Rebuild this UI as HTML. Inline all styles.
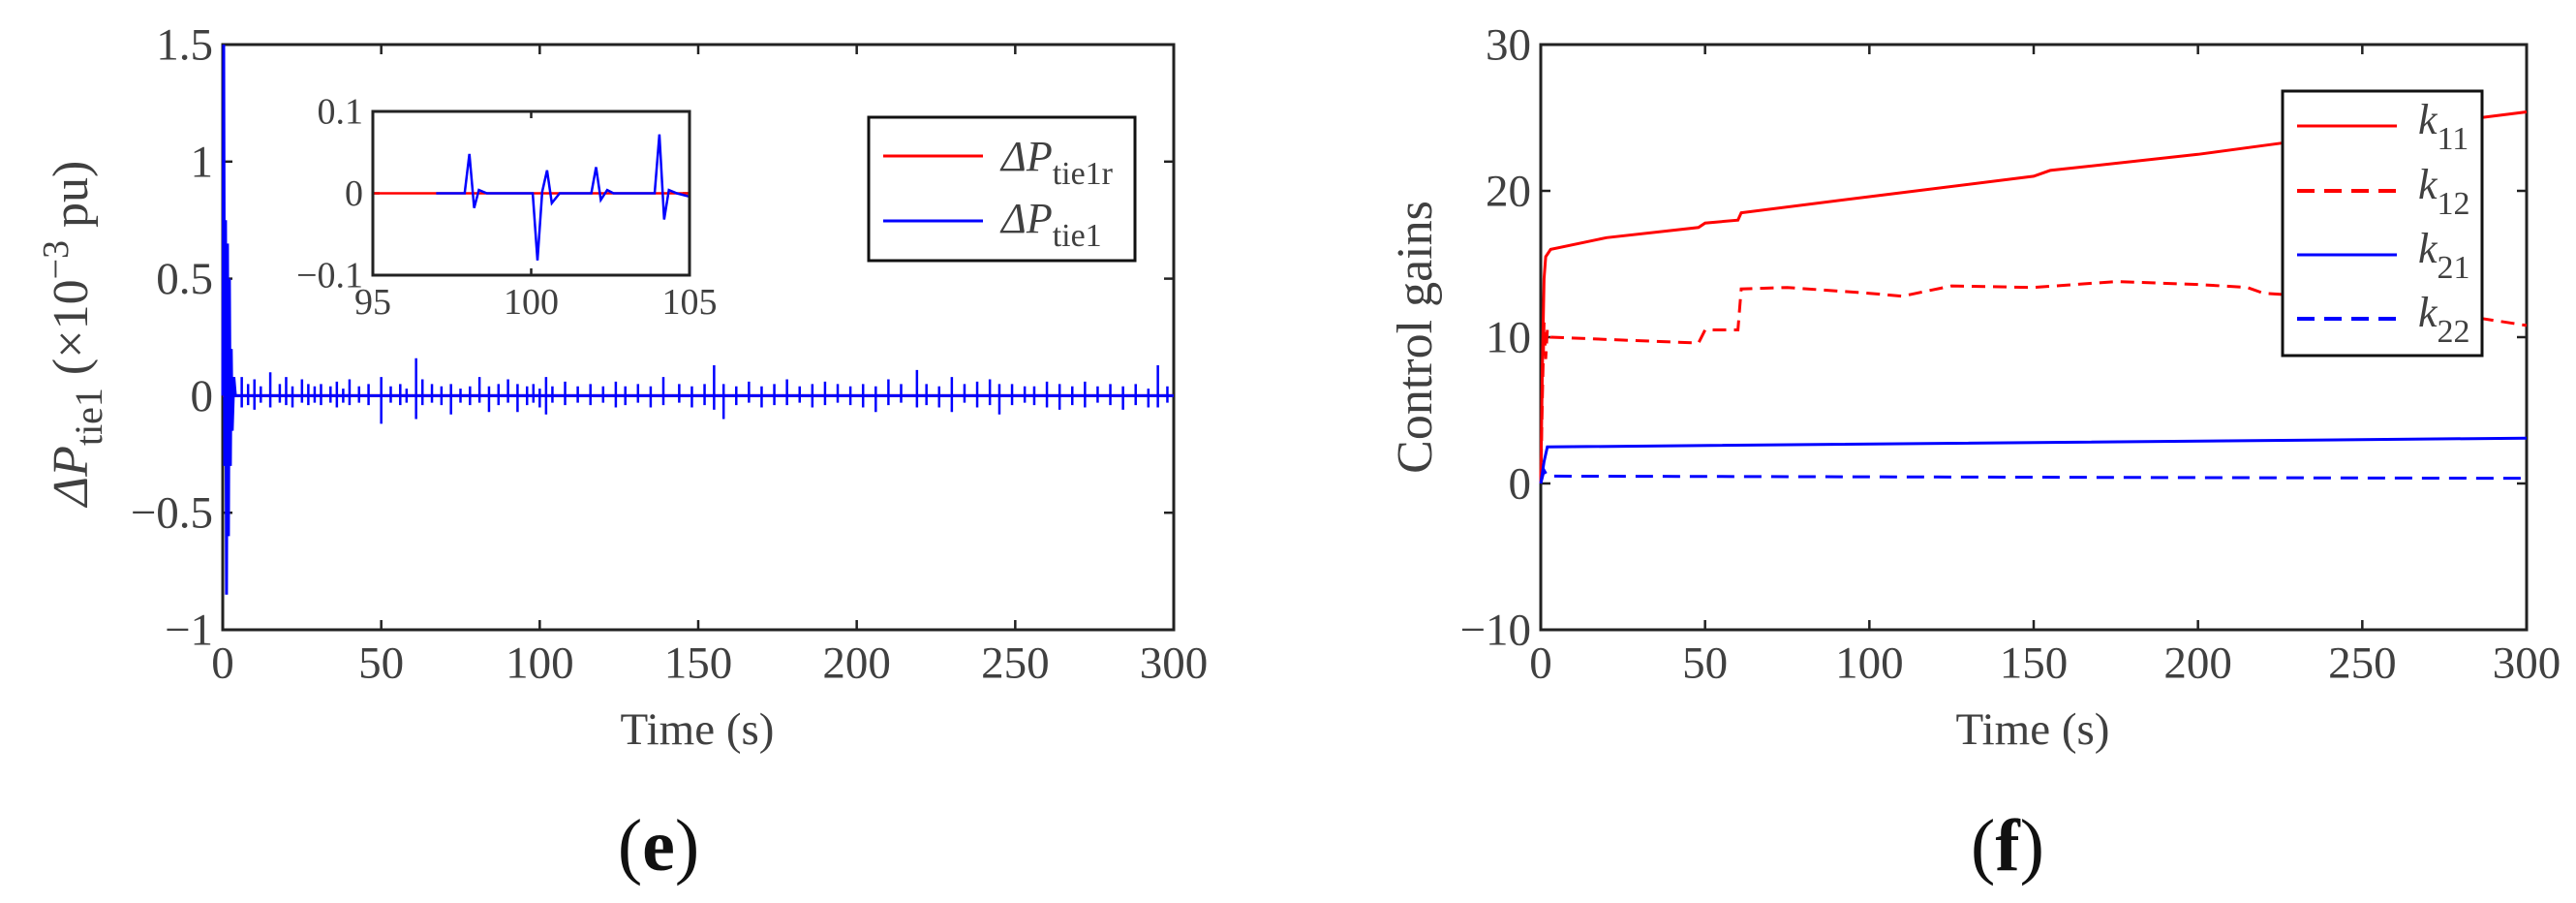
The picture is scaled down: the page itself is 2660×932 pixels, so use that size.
<!DOCTYPE html>
<html><head><meta charset="utf-8"><style>
html,body{margin:0;padding:0;background:#fff}
svg{display:block}
text{font-family:"Liberation Serif",serif;fill:#404040}
</style></head><body>
<svg id="svg" width="2660" height="932" viewBox="0 0 2660 932"></svg>
<script>
// ---------- data (e) ----------
const eTransT=[0,0.3,0.6,0.9,1.2,1.5,1.8,2.1,2.4,2.7,3,3.5,4,300];
const eTransV=[0,1.5,-0.3,0.75,-0.85,0.65,-0.6,0.5,-0.3,0.2,-0.15,0.08,0,0];
const eSpikeT=[6,8,10,12,15,18,20,22,25,27,29,31,34,36,38,40,43,46,50,53,56,58,61,63,66,69,72,75,78,81,84,87,90,93,96,98,100,102,104,108,112,116,120,124,127,131,135,139,144,148,152,155,158,162,166,170,174,178,182,186,190,194,198,202,206,210,214,219,222,226,230,234,238,242,245,249,253,256,260,264,268,272,276,280,284,288,292,295,298];
const eSpikeUp=[0.08,0.05,0.07,0.04,0.1,0.05,0.08,0.04,0.07,0.05,0.04,0.05,0.04,0.06,0.03,0.07,0.04,0.05,0.08,0.04,0.05,0.03,0.16,0.07,0.05,0.04,0.05,0.03,0.04,0.08,0.04,0.05,0.07,0.05,0.04,0.05,0.03,0.08,0.04,0.06,0.04,0.05,0.04,0.06,0.04,0.05,0.04,0.08,0.05,0.04,0.05,0.13,0.05,0.04,0.06,0.04,0.05,0.07,0.04,0.05,0.06,0.05,0.04,0.05,0.04,0.07,0.05,0.11,0.05,0.04,0.08,0.05,0.06,0.07,0.05,0.05,0.04,0.04,0.06,0.05,0.04,0.06,0.04,0.05,0.04,0.05,0.03,0.13,0.04];
const eSpikeDn=[-0.05,-0.04,-0.06,-0.03,-0.05,-0.03,-0.04,-0.05,-0.03,-0.04,-0.03,-0.04,-0.03,-0.05,-0.03,-0.04,-0.03,-0.04,-0.12,-0.03,-0.04,-0.03,-0.1,-0.04,-0.03,-0.04,-0.08,-0.03,-0.04,-0.03,-0.07,-0.04,-0.03,-0.07,-0.04,-0.03,-0.05,-0.08,-0.03,-0.04,-0.03,-0.04,-0.03,-0.05,-0.04,-0.03,-0.05,-0.04,-0.03,-0.05,-0.04,-0.06,-0.1,-0.04,-0.03,-0.05,-0.04,-0.04,-0.03,-0.05,-0.04,-0.03,-0.04,-0.05,-0.07,-0.04,-0.03,-0.05,-0.04,-0.05,-0.07,-0.03,-0.05,-0.04,-0.08,-0.04,-0.03,-0.04,-0.05,-0.06,-0.04,-0.05,-0.03,-0.04,-0.06,-0.04,-0.05,-0.05,-0.03];
const insT=[97,97.9,98.05,98.2,98.35,98.6,100.05,100.2,100.35,100.5,100.65,100.9,101.9,102.05,102.2,102.4,102.6,103,103.9,104.05,104.2,104.35,104.6,105];
const insV=[0,0,0.048,-0.018,0.004,0,0,-0.082,0.002,0.028,-0.012,0,0,0.032,-0.008,0.004,0,0,0,0.072,-0.032,0.004,0,-0.004];
// ---------- data (f) ----------
const k11T=[0,0.5,1,1.5,3,20,48,50,60,61,100,150,155,200,220,250,300];
const k11V=[0,8,14,15.5,16,16.8,17.5,17.8,18,18.5,19.6,21,21.4,22.5,23.1,24,25.4];
const k12T=[0,0.5,1,1.5,2,3,25,48,50,60,61,75,100,110,125,150,175,200,215,220,250,280,300];
const k12V=[0,6,11,8.5,10.5,10,9.8,9.6,10.5,10.5,13.3,13.4,13,12.8,13.5,13.4,13.8,13.6,13.4,13,12.6,11.5,10.8];
const k21T=[0,1,2,300];
const k21V=[0,1.5,2.5,3.1];
const k22T=[0,1,2,300];
const k22V=[0,0.9,0.5,0.35];
const eXTicks=[0,50,100,150,200,250,300];
const eYTicks=[-1,-0.5,0,0.5,1,1.5];
const eYLabels=["\u22121","\u22120.5","0","0.5","1","1.5"];
const fYTicks=[-10,0,10,20,30];
const fYLabels=["\u221210","0","10","20","30"];
const insX=[95,100,105];
const insY=[-0.1,0,0.1];
const insYLabels=["\u22120.1","0","0.1"];

const svg=document.getElementById('svg');
const NS='http://www.w3.org/2000/svg';
function mk(tag,attrs,parent){const e=document.createElementNS(NS,tag);for(const k in attrs)e.setAttribute(k,attrs[k]);(parent||svg).appendChild(e);return e;}
function scale(d0,d1,r0,r1){return v=>r0+(v-d0)/(d1-d0)*(r1-r0);}
function path(xs,ys,X,Y){return xs.map((t,i)=>(i?'L':'M')+X(t).toFixed(1)+','+Y(ys[i]).toFixed(1)).join('');}

function axesBox(L,R,T,B,X,Y,xt,yt,ylab,fs,tick,name){
  const g=mk('g',{});
  
  
  xt.forEach(v=>{
    mk('line',{x1:X(v),x2:X(v),y1:B,y2:B-tick,stroke:'#222','stroke-width':2.5},g);
    mk('line',{x1:X(v),x2:X(v),y1:T,y2:T+tick,stroke:'#222','stroke-width':2.5},g);
    const t=mk('text',{x:X(v),y:B+fs*1.05,'font-size':fs,'text-anchor':'middle'},g);t.textContent=v;
    
    
  });
  yt.forEach((v,i)=>{
    mk('line',{x1:L,x2:L+tick,y1:Y(v),y2:Y(v),stroke:'#222','stroke-width':2.5},g);
    mk('line',{x1:R,x2:R-tick,y1:Y(v),y2:Y(v),stroke:'#222','stroke-width':2.5},g);
    const t=mk('text',{x:L-10,y:Y(v)+fs*0.33,'font-size':fs,'text-anchor':'end'},g);t.textContent=ylab[i];
    
    
  });
  return g;
}
function frame(L,R,T,B,name,w){const r=mk('rect',{x:L,y:T,width:R-L,height:B-T,fill:'none',stroke:'#222','stroke-width':w||3});
  
  }

// ===== panel e =====
const eL=230,eR=1212,eT=46,eB=650;
const eX=scale(0,300,eL,eR), eY=scale(-1,1.5,eB,eT);
frame(eL,eR,eT,eB,'plot-e-frame');
axesBox(eL,eR,eT,eB,eX,eY,eXTicks,eYTicks,eYLabels,47,10,'plot-e');
mk('line',{x1:eL,x2:eR,y1:eY(0),y2:eY(0),stroke:'#f00','stroke-width':3});
let d='';
eSpikeT.forEach((t,i)=>{d+='M'+eX(t)+','+eY(eSpikeDn[i])+'L'+eX(t)+','+eY(eSpikeUp[i]);});
const sp=mk('path',{d:d,stroke:'#00f','stroke-width':2.5,fill:'none'});


const tr=mk('path',{d:path(eTransT,eTransV,eX,eY),stroke:'#00f','stroke-width':3,fill:'none'});


// inset
const iL=385,iR=712,iT=115,iB=284;
const iX=scale(95,105,iL,iR), iY=scale(-0.1,0.1,iB,iT);
mk('rect',{x:iL,y:iT,width:iR-iL,height:iB-iT,fill:'#fff'});
axesBox(iL,iR,iT,iB,iX,iY,insX,insY,insYLabels,38,7,'inset');
mk('line',{x1:iL,x2:iR,y1:iY(0),y2:iY(0),stroke:'#f00','stroke-width':2.5});
const il=mk('path',{d:path(insT,insV,iX,iY),stroke:'#00f','stroke-width':2.5,fill:'none'});


frame(iL,iR,iT,iB,'inset-frame',3);
// legend e
const lg=mk('g',{});


mk('rect',{x:897,y:121,width:275,height:148,fill:'#fff',stroke:'#111','stroke-width':3},lg);
mk('line',{x1:912,x2:1015,y1:161,y2:161,stroke:'#f00','stroke-width':3},lg);
mk('line',{x1:912,x2:1015,y1:228,y2:228,stroke:'#00f','stroke-width':3},lg);
let t=mk('text',{x:1034,y:176,'font-size':44,'font-style':'italic'},lg);t.innerHTML='ΔP<tspan font-style="normal" font-size="34" dy="14">tie1r</tspan>';
t=mk('text',{x:1034,y:240,'font-size':44,'font-style':'italic'},lg);t.innerHTML='ΔP<tspan font-style="normal" font-size="34" dy="14">tie1</tspan>';
// labels e
t=mk('text',{x:720,y:768,'font-size':47,'text-anchor':'middle'});t.textContent='Time (s)';


t=mk('text',{x:0,y:0,'font-size':52,'text-anchor':'middle',transform:'translate(90,344) rotate(-90)'});
t.innerHTML='<tspan font-style="italic">ΔP</tspan><tspan font-size="40" dy="15">tie1</tspan><tspan dy="-15"> (×10</tspan><tspan font-size="38" dy="-20">−3</tspan><tspan dy="20"> pu)</tspan>';


t=mk('text',{x:680,y:898,'font-size':76,'text-anchor':'middle',style:'fill:#111'});t.innerHTML='(<tspan font-weight="bold">e</tspan>)';



// ===== panel f =====
const fL=1591,fR=2609,fT=46,fB=650;
const fX=scale(0,300,fL,fR), fY=scale(-10,30,fB,fT);
frame(fL,fR,fT,fB,'plot-f-frame');
axesBox(fL,fR,fT,fB,fX,fY,eXTicks,fYTicks,fYLabels,47,10,'plot-f');
const series=[[k11T,k11V,'#f00',null,'k11-line'],[k12T,k12V,'#f00','14,8','k12-line'],[k21T,k21V,'#00f',null,'k21-line'],[k22T,k22V,'#00f','18,10','k22-line']];
series.forEach(s=>{const a={d:path(s[0],s[1],fX,fY),stroke:s[2],'stroke-width':3,fill:'none'};if(s[3])a['stroke-dasharray']=s[3];
  const p=mk('path',a);
  
  });
const lf=mk('g',{});


mk('rect',{x:2357,y:94,width:206,height:273,fill:'#fff',stroke:'#111','stroke-width':3},lf);
const lab=['11','12','21','22'],ly=[130,197,263,329];
series.forEach((s,i)=>{const a={x1:2372,x2:2475,y1:ly[i],y2:ly[i],stroke:s[2],'stroke-width':s[3]?4:3};if(s[3])a['stroke-dasharray']='18,10';mk('line',a,lf);
  const tt=mk('text',{x:2497,y:ly[i]+8,'font-size':44,'font-style':'italic'},lf);tt.innerHTML='k<tspan font-style="normal" font-size="34" dy="16">'+lab[i]+'</tspan>';});
t=mk('text',{x:2099,y:768,'font-size':47,'text-anchor':'middle'});t.textContent='Time (s)';


t=mk('text',{x:0,y:0,'font-size':52,'text-anchor':'middle',transform:'translate(1478,348) rotate(-90)'});t.textContent='Control gains';


t=mk('text',{x:2073,y:898,'font-size':76,'text-anchor':'middle',style:'fill:#111'});t.innerHTML='(<tspan font-weight="bold">f</tspan>)';


</script>
</body></html>
